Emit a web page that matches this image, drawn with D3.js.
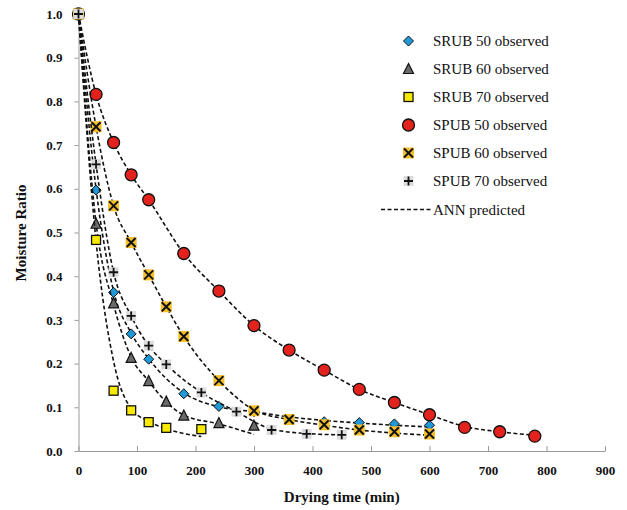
<!DOCTYPE html>
<html>
<head>
<meta charset="utf-8">
<script src="https://cdn.jsdelivr.net/npm/d3@7"></script>
<style>
  html, body { margin: 0; padding: 0; background: #fff; }
  svg { display: block; }
  svg text { font-family: "Liberation Serif", "Times New Roman", serif; }
</style>
</head>
<body>
<svg id="chart" width="627" height="510"></svg>
<script>
// Observed drying data (time in minutes, moisture ratio)
const srub50Time = [0, 30, 60, 90, 120, 180, 240, 300, 360, 420, 480, 540, 600];
const srub50MR   = [1.0, 0.597, 0.363, 0.268, 0.210, 0.131, 0.102, 0.090, 0.071, 0.067, 0.065, 0.062, 0.059];
const srub60Time = [0, 30, 60, 90, 120, 150, 180, 240, 300];
const srub60MR   = [1.0, 0.520, 0.338, 0.213, 0.160, 0.113, 0.081, 0.064, 0.058];
const srub70Time = [0, 30, 60, 90, 120, 150, 210];
const srub70MR   = [1.0, 0.483, 0.138, 0.093, 0.066, 0.053, 0.050];
const spub50Time = [0, 30, 60, 90, 120, 180, 240, 300, 360, 420, 480, 540, 600, 660, 720, 780];
const spub50MR   = [1.0, 0.816, 0.706, 0.632, 0.575, 0.452, 0.366, 0.287, 0.231, 0.185, 0.141, 0.111, 0.083, 0.054, 0.044, 0.034];
const spub60Time = [0, 30, 60, 90, 120, 150, 180, 240, 300, 360, 420, 480, 540, 600];
const spub60MR   = [1.0, 0.742, 0.561, 0.477, 0.403, 0.330, 0.262, 0.161, 0.092, 0.072, 0.060, 0.048, 0.044, 0.039];
const spub70Time = [0, 30, 60, 90, 120, 150, 210, 270, 330, 390, 450];
const spub70MR   = [1.0, 0.656, 0.409, 0.309, 0.241, 0.198, 0.134, 0.090, 0.048, 0.039, 0.037];

// ANN predicted moisture ratio at the same drying times
const srub50Pred = [1.0, 0.600, 0.366, 0.270, 0.211, 0.133, 0.101, 0.090, 0.078, 0.070, 0.064, 0.059, 0.055];
const srub60Pred = [1.0, 0.522, 0.335, 0.215, 0.160, 0.112, 0.082, 0.062, 0.038];
const srub70Pred = [1.0, 0.480, 0.205, 0.097, 0.068, 0.051, 0.033];
const spub50Pred = [1.0, 0.816, 0.706, 0.632, 0.575, 0.452, 0.366, 0.287, 0.231, 0.185, 0.141, 0.111, 0.083, 0.056, 0.044, 0.036];
const spub60Pred = [1.0, 0.742, 0.561, 0.477, 0.403, 0.330, 0.262, 0.161, 0.094, 0.072, 0.059, 0.048, 0.041, 0.036];
const spub70Pred = [1.0, 0.656, 0.409, 0.309, 0.241, 0.198, 0.134, 0.090, 0.050, 0.040, 0.037];

const seriesNames = ["SRUB 50 observed", "SRUB 60 observed", "SRUB 70 observed",
                     "SPUB 50 observed", "SPUB 60 observed", "SPUB 70 observed"];
const predictedLabel = "ANN predicted";

const xTicks = [0, 100, 200, 300, 400, 500, 600, 700, 800, 900];
const yTicks = [0, 0.1, 0.2, 0.3, 0.4, 0.5, 0.6, 0.7, 0.8, 0.9, 1.0];
const xTitle = "Drying time (min)";
const yTitle = "Moisture Ratio";

const series = [
  { name: seriesNames[0], t: srub50Time, obs: srub50MR, pred: srub50Pred, marker: "diamond" },
  { name: seriesNames[1], t: srub60Time, obs: srub60MR, pred: srub60Pred, marker: "triangle" },
  { name: seriesNames[2], t: srub70Time, obs: srub70MR, pred: srub70Pred, marker: "square" },
  { name: seriesNames[3], t: spub50Time, obs: spub50MR, pred: spub50Pred, marker: "circle" },
  { name: seriesNames[4], t: spub60Time, obs: spub60MR, pred: spub60Pred, marker: "cross" },
  { name: seriesNames[5], t: spub70Time, obs: spub70MR, pred: spub70Pred, marker: "plus" }
];

const svg = d3.select("#chart");
const plot = { left: 78.5, right: 605, top: 14, bottom: 451 };

const x = d3.scaleLinear().domain([0, 900]).range([plot.left, plot.right]);
const y = d3.scaleLinear().domain([0, 1]).range([plot.bottom, plot.top]);

const serif = "Liberation Serif, Times New Roman, serif";
const axisColor = "#9a9a9a";

// X axis with ticks pointing up into the plot
const xAxis = svg.append("g")
  .attr("transform", `translate(0,${plot.bottom})`)
  .call(d3.axisBottom(x).tickValues(xTicks).tickSizeInner(-5).tickSizeOuter(0).tickPadding(15)
        .tickFormat(d3.format("d")));
xAxis.attr("font-family", null);
xAxis.select(".domain").attr("stroke", axisColor);
xAxis.selectAll(".tick line").attr("stroke", axisColor);
xAxis.selectAll(".tick text")
  .style("font-family", serif).attr("font-weight", "bold").attr("font-size", 13).attr("fill", "#111");

// Y axis with short outward ticks
const yAxis = svg.append("g")
  .attr("transform", `translate(${plot.left},0)`)
  .call(d3.axisLeft(y).tickValues(yTicks).tickSizeInner(4).tickSizeOuter(0).tickPadding(12)
        .tickFormat(d3.format(".1f")));
yAxis.attr("font-family", null);
yAxis.select(".domain").attr("stroke", axisColor);
yAxis.selectAll(".tick line").attr("stroke", axisColor);
yAxis.selectAll(".tick text")
  .style("font-family", serif).attr("font-weight", "bold").attr("font-size", 13).attr("fill", "#111");

// Axis titles
svg.append("text")
  .attr("x", (plot.left + plot.right) / 2).attr("y", 502)
  .attr("text-anchor", "middle")
  .style("font-family", serif).attr("font-weight", "bold").attr("font-size", 15).attr("fill", "#111")
  .text(xTitle);
svg.append("text")
  .attr("transform", "translate(26,233) rotate(-90)")
  .attr("text-anchor", "middle")
  .style("font-family", serif).attr("font-weight", "bold").attr("font-size", 15).attr("fill", "#111")
  .text(yTitle);

// Marker painter
function drawMarker(g, type, cx, cy) {
  const m = g.append("g").attr("transform", `translate(${cx},${cy})`);
  if (type === "diamond") {
    m.append("path").attr("d", "M0,-5 L5,0 L0,5 L-5,0Z")
      .attr("fill", "#1e98d6").attr("stroke", "#111").attr("stroke-width", 1);
  } else if (type === "triangle") {
    m.append("path").attr("d", "M0,-5.5 L5,4.5 L-5,4.5Z")
      .attr("fill", "#6a6a6a").attr("stroke", "#111").attr("stroke-width", 1.2);
  } else if (type === "square") {
    m.append("rect").attr("x", -4.5).attr("y", -4.5).attr("width", 9).attr("height", 9)
      .attr("fill", "#f7ea00").attr("stroke", "#111").attr("stroke-width", 1.3);
  } else if (type === "circle") {
    m.append("circle").attr("r", 6)
      .attr("fill", "#e3221e").attr("stroke", "#111").attr("stroke-width", 1.3);
  } else if (type === "cross") {
    m.append("rect").attr("x", -5.5).attr("y", -5.5).attr("width", 11).attr("height", 11)
      .attr("fill", "#f5bf2a");
    m.append("path").attr("d", "M-4.5,-4.5 L4.5,4.5 M4.5,-4.5 L-4.5,4.5")
      .attr("stroke", "#111").attr("stroke-width", 2);
  } else if (type === "plus") {
    m.append("rect").attr("x", -5).attr("y", -5).attr("width", 10).attr("height", 10)
      .attr("fill", "#dcdcdc");
    m.append("path").attr("d", "M-4.5,0 L4.5,0 M0,-4.5 L0,4.5")
      .attr("stroke", "#111").attr("stroke-width", 1.8);
  }
}

const line = d3.line()
  .x(d => x(d[0]))
  .y(d => y(d[1]))
  .curve(d3.curveMonotoneX);

const layer = svg.append("g");
series.forEach(s => {
  const g = layer.append("g");
  g.append("path")
    .datum(s.t.map((t, i) => [t, s.pred[i]]))
    .attr("d", line)
    .attr("fill", "none")
    .attr("stroke", "#111")
    .attr("stroke-width", 1.6)
    .attr("stroke-dasharray", "4,2.5");
  s.t.forEach((t, i) => drawMarker(g, s.marker, x(t), y(s.obs[i])));
});

// Legend
const legend = svg.append("g");
const rowY = [41, 69, 97, 125, 153, 181];
series.forEach((s, i) => {
  drawMarker(legend, s.marker, 408.5, rowY[i]);
  legend.append("text")
    .attr("x", 433).attr("y", rowY[i] + 5)
    .style("font-family", serif).attr("font-size", 15).attr("fill", "#111")
    .text(s.name);
});
legend.append("line")
  .attr("x1", 381).attr("x2", 431).attr("y1", 209.5).attr("y2", 209.5)
  .attr("stroke", "#111").attr("stroke-width", 1.6).attr("stroke-dasharray", "4,2.5");
legend.append("text")
  .attr("x", 433).attr("y", 214.5)
  .style("font-family", serif).attr("font-size", 15).attr("fill", "#111")
  .text(predictedLabel);
</script>
</body>
</html>
